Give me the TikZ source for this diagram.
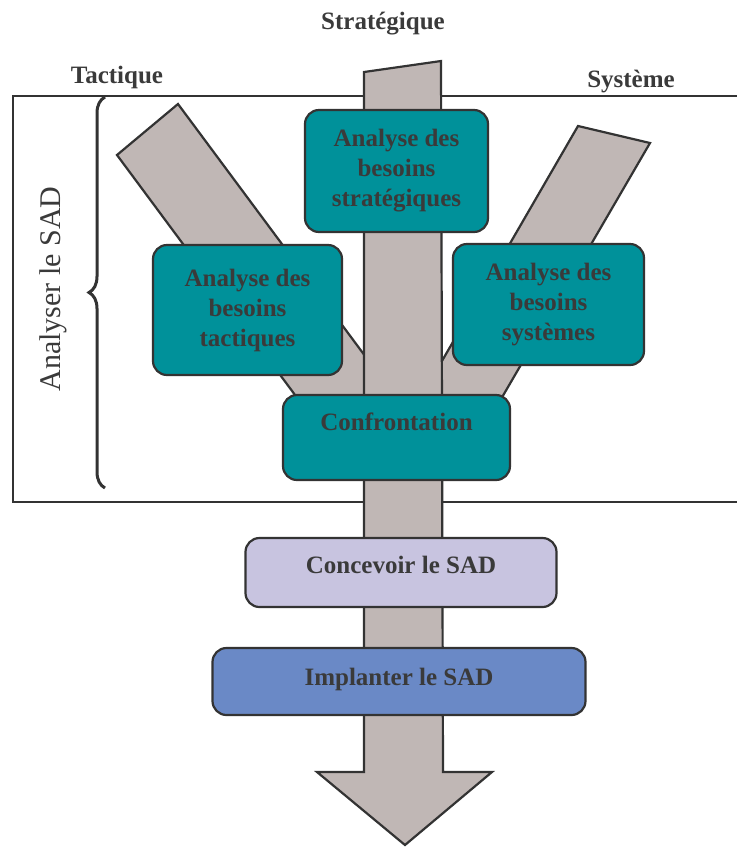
\documentclass[tikz,border=0pt]{standalone}
\usepackage{fontspec}
\setmainfont{Liberation Serif}
\usetikzlibrary{decorations.pathreplacing}
\definecolor{needteal}{HTML}{00919A}
\definecolor{flowgray}{HTML}{C0B7B5}
\definecolor{designlilac}{HTML}{C8C4E0}
\definecolor{buildblue}{HTML}{6A89C6}
\definecolor{outline}{HTML}{333333}
\definecolor{labeltext}{HTML}{3A3A3A}

\begin{document}
\begin{tikzpicture}[
  x=1pt,
  y=-1pt,
  every node/.style={text=labeltext},
  stage/.style={draw=outline, line width=2.2pt, rounded corners=14pt, align=center, inner sep=0pt,
    font=\fontsize{25}{30}\selectfont\bfseries},
  needNode/.style={stage, fill=needteal},
  designNode/.style={stage, fill=designlilac},
  buildNode/.style={stage, fill=buildblue},
  flow/.style={draw=outline, line width=2.2pt, fill=flowgray, line join=miter},
  axisLabel/.style={font=\fontsize{25}{30}\selectfont\bfseries}
]
  \clip (0,0) rectangle (737,847);

  % Analysis frame.
  \draw[outline, line width=1.4pt] (13,96) rectangle (760,502);

  % Side branches, then the main shaft over them.
  \draw[flow] (117,155) -- (178,104) -- (420,430) -- (321,430) -- cycle;
  \draw[flow] (578,126) -- (650,143) -- (483,430) -- (402,430) -- cycle;
  \draw[flow] (364,72) -- (441,61) -- (443,772) -- (492,772) -- (405,845)
    -- (317,772) -- (364,772) -- cycle;

  % Stages.
  \node[needNode, minimum width=183pt, minimum height=122pt] (strat) at (396.5,171)
    {Analyse des\\besoins\\stratégiques};
  \node[needNode, minimum width=189pt, minimum height=130pt] (tact) at (247.5,310)
    {Analyse des\\besoins\\tactiques};
  \node[needNode, minimum width=191pt, minimum height=121pt] (syst) at (548.5,304.5)
    {Analyse des\\besoins\\systèmes};
  \node[needNode, minimum width=227pt, text height=35pt, text depth=50pt] (conf) at (396.5,437.5)
    {Confrontation};
  \node[designNode, minimum width=311pt, text height=35pt, text depth=34pt] (design) at (401,572.5)
    {Concevoir le SAD};
  \node[buildNode, minimum width=373pt, text height=37pt, text depth=30pt] (build) at (399,681.5)
    {Implanter le SAD};

  % Branch names.
  \node[axisLabel] (stratLbl) at (383,24) {Stratégique};
  \node[axisLabel] (tactLbl) at (117,77) {Tactique};
  \node[axisLabel] (systLbl) at (631,82) {Système};

  % Brace and phase name.
  \draw[outline, line width=3pt, decorate, decoration={brace, amplitude=16pt}]
    (105,488) -- (105,97);
  \node[rotate=90, font=\fontsize{30}{36}\selectfont] (phase) at (53,289) {Analyser le SAD};
\end{tikzpicture}
\end{document}
